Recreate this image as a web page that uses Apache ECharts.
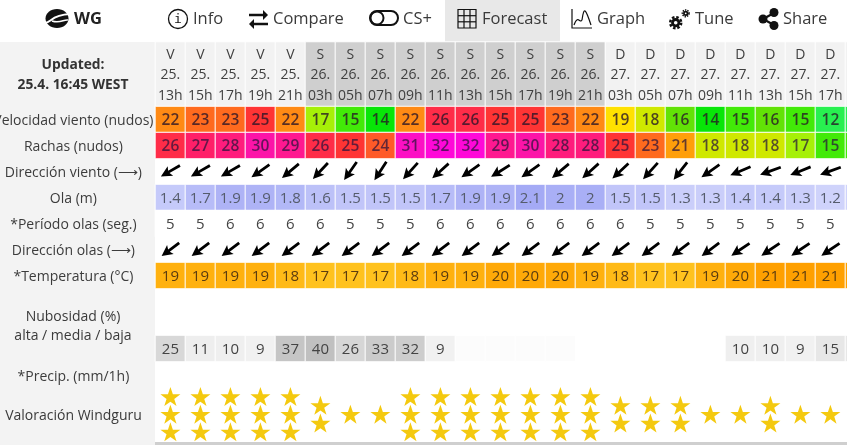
<!DOCTYPE html>
<html>
<head>
<meta charset="utf-8">
<style>html,body{margin:0;padding:0;background:#fff;overflow:hidden}#main{width:847px;height:445px}</style>
<script src="https://cdn.jsdelivr.net/npm/echarts@6/dist/echarts.min.js"></script>
</head>
<body>
<div id="main"></div>
<script>
// one column per forecast step, the last one only just shows at the right edge
const days = ['V','V','V','V','V','S','S','S','S','S','S','S','S','S','S','D','D','D','D','D','D','D','D','D'];
const dates = ['25.','25.','25.','25.','25.','26.','26.','26.','26.','26.','26.','26.','26.','26.','26.','27.','27.','27.','27.','27.','27.','27.','27.','27.'];
const hours = ['13h','15h','17h','19h','21h','03h','05h','07h','09h','11h','13h','15h','17h','19h','21h','03h','05h','07h','09h','11h','13h','15h','17h','19h'];
const wind = [22,23,23,25,22,17,15,14,22,26,26,25,25,23,22,19,18,16,14,15,16,15,12,12];
const gusts = [26,27,28,30,29,26,25,24,31,32,32,29,30,28,28,25,23,21,18,18,18,17,15,15];
const windDir = [60,60,60,55,50,43,35,33,42,48,55,58,55,50,48,47,42,38,55,67,70,68,70,70];
const wave = [1.4,1.7,1.9,1.9,1.8,1.6,1.5,1.5,1.5,1.7,1.9,1.9,2.1,2,2,1.5,1.5,1.3,1.3,1.4,1.4,1.3,1.2,1.2];
const wavePeriod = [5,5,6,6,6,6,5,5,5,6,6,6,6,6,6,6,5,5,5,5,5,5,5,5];
const waveDir = [53,53,53,53,53,53,53,53,53,53,53,53,53,53,53,53,53,53,53,56,56,56,56,56];
const temperature = [19,19,19,19,18,17,17,17,18,19,19,20,20,20,19,18,17,17,19,20,21,21,21,21];
const cloudLow = [25,11,10,9,37,40,26,33,32,9,2,2,2,2,null,null,null,null,null,10,10,9,15,15];
const stars = [3,3,3,3,3,2,1,1,3,3,3,3,3,3,3,2,2,2,1,1,2,1,1,1];

const windScale = ['#28f050','#14ea28','#08e608','#42ea08','#62e206','#a6f008','#cfe800','#ffe100','#ffc800','#ff9f0a','#ff8a14','#ff6a1e','#ff5a28','#ff3434','#ff2c48','#ff1f68','#ff1c7c','#ff1890','#fc14a8','#fc10c4','#ff08d8'];
const FONT = '"Open Sans", sans-serif';
const ARROW = 'path://M5.5 0L11 11L6.9 9.2L6.9 22L4.1 22L4.1 9.2L0 11Z';
const STAR = 'path://M50 0L61.8 35L98 35L68.5 57L79.4 91L50 70L20.6 91L31.5 57L2 35L38.2 35Z';

const cols = hours.map((h, i) => i);
let grids = [], xAxes = [], yAxes = [], series = [], visualMaps = [];

// every table row gets its own grid, all sharing the same columns
function addRow(top, height, name, yAxis) {
    let idx = grids.length;
    grids.push({left: 155.4, top: top, width: 30 * cols.length, height: height, outerBoundsMode: 'none'});
    xAxes.push({type: 'category', gridIndex: idx, data: cols, show: false});
    yAxes.push(Object.assign({
        type: 'category', gridIndex: idx, data: [name],
        axisLine: {show: false}, axisTick: {show: false}, splitLine: {show: false},
        axisLabel: {
            show: !!name, margin: 82, align: 'center', interval: 0,
            formatter: v => '{row|' + v + '}',
            rich: {row: {fontFamily: FONT, fontSize: 14, color: '#3c3c3c', padding: [4, 0, 0, 0]}}
        }
    }, yAxis || {}));
    return idx;
}

function heatRow(top, name, values, colors, min, max, labelColor, fontWeight, fontSize) {
    let idx = addRow(top, 26, name);
    visualMaps.push({show: false, type: 'continuous', seriesIndex: series.length, dimension: 2, min: min, max: max, inRange: {color: colors}});
    series.push({
        type: 'heatmap', xAxisIndex: idx, yAxisIndex: idx,
        data: values.map((v, i) => [i, 0, v]),
        itemStyle: {borderColor: '#fff', borderWidth: 1},
        emphasis: {disabled: true},
        label: {
            show: true, fontFamily: FONT, fontSize: fontSize || 15, color: labelColor, fontWeight: fontWeight || 'normal', offset: [0, 1],
            formatter: p => (p.value[2] !== null && p.value[2] >= 5 || min > 0) ? String(p.value[2]) : ''
        }
    });
}

function arrowRow(top, name, degrees) {
    let idx = addRow(top, 26, name);
    series.push({
        type: 'scatter', xAxisIndex: idx, yAxisIndex: idx, symbol: ARROW, symbolSize: [11, 22],
        itemStyle: {color: '#000', opacity: 1},
        data: degrees.map((d, i) => ({value: [i, 0], symbolRotate: -(d + 180)}))
    });
}

// header
let headIdx = addRow(42, 65, '');
series.push({
    type: 'heatmap', xAxisIndex: headIdx, yAxisIndex: headIdx,
    data: cols.map(i => ({value: [i, 0, 1], itemStyle: {color: days[i] === 'S' ? '#cfcfcf' : '#f2f2f2'}})),
    itemStyle: {borderColor: '#fff', borderWidth: 1},
    emphasis: {disabled: true},
    label: {show: true, fontFamily: FONT, fontSize: 14, lineHeight: 20.5, color: '#404040', offset: [0, 1],
        formatter: p => days[p.value[0]] + '\n' + dates[p.value[0]] + '\n' + hours[p.value[0]]}
});

heatRow(106.5, 'Velocidad viento (nudos)', wind, windScale, 12, 32, 'rgba(40,20,40,0.78)', 600, 15.5);
heatRow(132.5, 'Rachas (nudos)', gusts, windScale, 12, 32, 'rgba(40,20,60,0.72)', 600, 15.5);
arrowRow(158, 'Dirección viento (⟶)', windDir);
heatRow(184.5, 'Ola (m)', wave, ['#cfd3fb', '#a4aaf5'], 1.2, 2.1, '#555c6c');
heatRow(210.5, '*Período olas (seg.)', wavePeriod, ['#ffffff', '#ffffff'], 5, 6, '#444');
arrowRow(236.5, 'Dirección olas (⟶)', waveDir);
heatRow(262.5, '*Temperatura (°C)', temperature, ['#ffc21e', '#ffa000'], 17, 21, '#5a3c10');
heatRow(335.5, '', cloudLow, ['#ffffff', '#c0c0c0'], 0, 40, '#444');
addRow(362, 26, '*Precip. (mm/1h)');

// rating stars, stacked around the middle of the row
let starIdx = addRow(387.7, 53, '', {type: 'value', min: -1.5, max: 1.5, show: false});
let starData = [];
cols.forEach(i => {
    for (let s = 0; s < stars[i]; s++) starData.push([i, (stars[i] - 1) / 2 - s]);
});
series.push({
    type: 'scatter', xAxisIndex: starIdx, yAxisIndex: starIdx, symbol: STAR, symbolSize: [20, 19],
    clip: false, itemStyle: {color: '#f4c90f', opacity: 1}, data: starData
});

// page furniture around the table
function txt(x, y, s, extra) {
    return {type: 'text', x: x, y: y, z: 5, style: Object.assign({text: s, fontFamily: FONT, fontSize: 16.5, fill: '#3a3a3a', verticalAlign: 'middle'}, extra || {})};
}
function line(points, w) {
    return {type: 'polyline', z: 6, shape: {points: points}, style: {fill: null, stroke: '#111', lineWidth: w || 1.5}};
}
function tri(points) {
    return {type: 'polygon', z: 6, shape: {points: points}, style: {fill: '#111'}};
}
function circle(cx, cy, r, style) {
    return {type: 'circle', z: 6, shape: {cx: cx, cy: cy, r: r}, style: style};
}

let furniture = [
    {type: 'rect', z: -10, shape: {x: 0, y: 42, width: 155, height: 403}, style: {fill: '#f3f3f3'}},
    {type: 'rect', z: -10, shape: {x: 445, y: 0, width: 115, height: 42}, style: {fill: '#e8e8e8'}},
    {type: 'rect', z: 1, shape: {x: 155, y: 442, width: 692, height: 3}, style: {fill: '#cfcfcf'}},
    txt(73, 65, 'Updated:', {align: 'center', fontSize: 13.8, fontWeight: 700, fill: '#333'}),
    txt(73, 85.5, '25.4. 16:45 WEST', {align: 'center', fontSize: 13.8, fontWeight: 700, fill: '#333'}),
    txt(73, 317, 'Nubosidad (%)', {align: 'center', fontSize: 14}),
    txt(73, 336, 'alta / media / baja', {align: 'center', fontSize: 14}),
    txt(73.5, 416, 'Valoración Windguru', {align: 'center', fontSize: 14}),

    // logo
    {type: 'ellipse', z: 6, shape: {cx: 57, cy: 18.5, rx: 11.5, ry: 9.5}, style: {fill: '#111'}},
    {type: 'bezierCurve', z: 7, shape: {x1: 44, y1: 23, cpx1: 52, cpy1: 23, cpx2: 50, cpy2: 15, x2: 70, y2: 14}, style: {stroke: '#fff', fill: null, lineWidth: 2}},
    {type: 'bezierCurve', z: 7, shape: {x1: 52, y1: 21, cpx1: 60, cpy1: 24, cpx2: 64, cpy2: 19, x2: 68, y2: 20}, style: {stroke: '#fff', fill: null, lineWidth: 1.5}},
    txt(74, 19, 'WG', {fontSize: 16.5, fontWeight: 700, fill: '#222'}),

    // info
    circle(178, 19, 9.5, {fill: null, stroke: '#111', lineWidth: 1.3}),
    txt(178, 19.5, 'i', {align: 'center', fontFamily: 'DejaVu Sans Mono', fontSize: 13, fill: '#111'}),
    txt(193, 19, 'Info'),

    // compare
    line([[249, 15], [266, 15]], 2.5), tri([[263, 10], [268, 15], [263, 20]]),
    line([[252, 24], [268, 24]], 2.5), tri([[254, 19], [249, 24], [254, 29]]),
    txt(273, 19, 'Compare'),

    // CS+
    {type: 'rect', z: 6, shape: {x: 370, y: 11, width: 28, height: 14, r: 7}, style: {fill: null, stroke: '#111', lineWidth: 2}},
    circle(377, 18, 6.5, {fill: null, stroke: '#111', lineWidth: 2}),
    txt(403, 19, 'CS+'),

    // forecast grid icon
    {type: 'rect', z: 6, shape: {x: 458, y: 9.5, width: 18, height: 18.5}, style: {fill: null, stroke: '#111', lineWidth: 1.2}},
    line([[464, 9.5], [464, 28]], 1.2), line([[470, 9.5], [470, 28]], 1.2),
    line([[458, 15.7], [476, 15.7]], 1.2), line([[458, 21.8], [476, 21.8]], 1.2),
    txt(482, 19, 'Forecast'),

    // graph icon
    line([[572, 9], [572, 28], [592, 28]], 1.2),
    {type: 'bezierCurve', z: 6, shape: {x1: 574, y1: 25, cpx1: 578, cpy1: 14, cpx2: 580, cpy2: 24, x2: 582, y2: 20}, style: {stroke: '#111', fill: null, lineWidth: 1.2}},
    {type: 'bezierCurve', z: 6, shape: {x1: 582, y1: 20, cpx1: 584, cpy1: 5, cpx2: 586, cpy2: 10, x2: 591, y2: 25}, style: {stroke: '#111', fill: null, lineWidth: 1.2}},
    txt(597, 19, 'Graph'),

    // tune icon
    circle(675.7, 22.7, 5.5, {fill: null, stroke: '#111', lineWidth: 2.5, lineDash: [2.5, 1.8]}),
    circle(675.7, 22.7, 4.6, {fill: '#111'}),
    circle(675.7, 22.7, 1.8, {fill: '#fff'}),
    circle(685.7, 13.3, 3.3, {fill: null, stroke: '#111', lineWidth: 1.6, lineDash: [1.4, 1]}),
    circle(685.7, 13.3, 2.6, {fill: '#111'}),
    circle(685.7, 13.3, 0.9, {fill: '#fff'}),
    txt(695, 19, 'Tune'),

    // share icon
    line([[774, 13], [763, 19], [774, 25]], 2.2),
    circle(763, 19, 4.5, {fill: '#111'}), circle(774, 12.5, 4.5, {fill: '#111'}), circle(774, 25.5, 4.5, {fill: '#111'}),
    txt(783, 19, 'Share')
];

let myChart = echarts.init(document.getElementById('main'), null, {renderer: 'canvas'});
myChart.setOption({
    animation: false,
    backgroundColor: '#fff',
    tooltip: {show: false},
    grid: grids,
    xAxis: xAxes,
    yAxis: yAxes,
    visualMap: visualMaps,
    graphic: {elements: furniture},
    series: series
});
</script>
</body>
</html>
